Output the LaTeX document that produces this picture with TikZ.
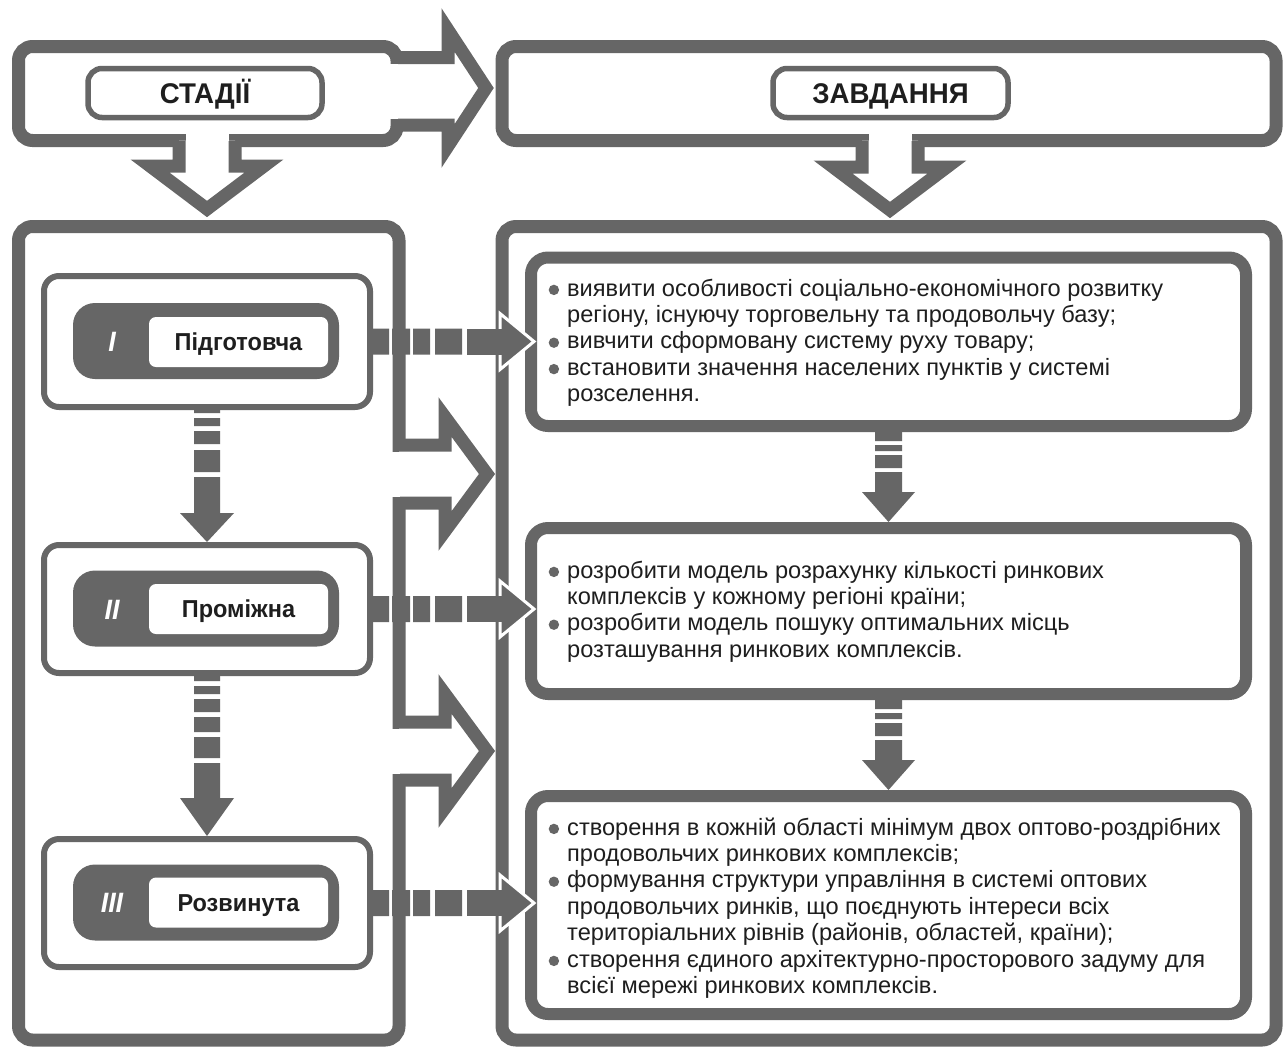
\documentclass[tikz,border=0pt]{standalone}
\usepackage{fontspec}
\setmainfont{Liberation Sans}
\newfontfamily\bodyfont{Liberation Sans}
\newfontfamily\hdrfont[FakeStretch=0.97]{Liberation Sans}
\newfontfamily\stgfont[FakeStretch=0.96]{Liberation Sans}
\definecolor{g}{HTML}{666666}
\definecolor{ink}{HTML}{1E1E1E}
\newcommand\bl{\makebox[19pt][l]{\hspace{0.5pt}\tikz[baseline=0pt]\fill[g] (5.2pt,6.1pt) circle[radius=5.2pt];}}
\newcommand\ind{\hspace*{19pt}}
\newcommand\taskfont{\bodyfont\fontsize{23.6pt}{26.4pt}\selectfont}
\newcommand\outlinearrow[1]{\fill[white] #1 -- cycle; \draw[g,line width=13pt,line join=miter,miter limit=10] #1;}
\newcommand\hdash[1]{%
  \begin{scope}[shift={(#1.east)}]
    \fill[g] (0,-13) rectangle (16,13) (19,-13) rectangle (37,13) (40,-13) rectangle (57,13) (62,-13) rectangle (89,13);
    \filldraw[fill=g,draw=white,line width=3pt,line join=miter] (127,-28) -- (161,0) -- (127,28) -- cycle;
    \fill[g] (94,-13) rectangle (130,13);
  \end{scope}}
\begin{document}
\lineskiplimit=-50pt\relax
\lineskip=0pt\relax
\begin{tikzpicture}[x=1pt,y=-1pt,
  bigframe/.style={draw=g, line width=13pt, fill=white, rounded corners=14pt, inner sep=0pt},
  hpill/.style={draw=g, line width=5.5pt, fill=white, rounded corners=14pt, inner sep=0pt,
     minimum height=49pt, text=ink, font=\hdrfont\bfseries\fontsize{28.5pt}{32pt}\selectfont,
     text height=20.4pt, text depth=0pt},
  stagebox/.style={draw=g, line width=6pt, fill=white, rounded corners=15pt, inner sep=0pt,
     minimum width=326pt},
  darkpill/.style={fill=g, rounded corners=22pt, inner sep=0pt, minimum width=266pt, minimum height=76pt},
  whitebox/.style={fill=white, rounded corners=7pt, inner sep=0pt, minimum width=179pt, minimum height=50pt,
     text=ink, font=\stgfont\bfseries\fontsize{24.5pt}{28pt}\selectfont, text height=17.5pt, text depth=0pt},
  numeral/.style={text=white, inner sep=0pt, anchor=base, font=\stgfont\bfseries\itshape\fontsize{28pt}{32pt}\selectfont},
  taskbox/.style={draw=g, line width=12pt, fill=white, rounded corners=17pt, inner sep=0pt, minimum width=715pt},
  tasktext/.style={anchor=base west, align=left, inner sep=0pt, text=ink, font=\taskfont}
]
\useasboundingbox (0,0) rectangle (1284,1047);

% ---------- left header ----------
\node[bigframe, minimum width=378.5pt, minimum height=94pt] (hl) at (207.75,93.5) {};
\outlinearrow{(397,57.5) -- (448,57.5) -- (448,30) -- (486,88) -- (448,146) -- (448,125) -- (397,125)}
\fill[white] (389,64) rectangle (398,118.5);
\outlinearrow{(179,140.5) -- (179,166) -- (150,166) -- (207,209) -- (264,166) -- (235,166) -- (235,140.5)}
\fill[white] (185.5,133) rectangle (228.5,141);

% ---------- right header ----------
\node[bigframe, minimum width=774pt, minimum height=94pt] (hr) at (889,93.5) {};
\outlinearrow{(862,140.5) -- (862,167) -- (833,167) -- (890,210) -- (947,167) -- (918,167) -- (918,140.5)}
\fill[white] (868.5,133) rectangle (911.5,141);

\node[hpill, minimum width=234pt] (hp1) at (205,93) {СТАДІЇ};
\node[hpill, minimum width=235pt] (hp2) at (890.5,93) {ЗАВДАННЯ};

% ---------- big columns ----------
\node[bigframe, minimum width=380.5pt, minimum height=813.5pt] (colL) at (208.75,633.25) {};
\outlinearrow{(399,445) -- (445,445) -- (445,417) -- (487,474) -- (445,531) -- (445,503) -- (399,503)}
\fill[white] (391,451.5) rectangle (400,496.5);
\outlinearrow{(399,722) -- (445,722) -- (445,694) -- (487,751) -- (445,808) -- (445,780) -- (399,780)}
\fill[white] (391,728.5) rectangle (400,773.5);

\node[bigframe, minimum width=774pt, minimum height=813.5pt] (colR) at (889,633.25) {};

% ---------- stages ----------
\node[stagebox, minimum height=131pt] (s1) at (207,341.5) {};
\node[darkpill] (p1) at (206,341) {};
\node[whitebox] (w1) at (238.5,342) {Підготовча};
\node[numeral] (n1) at (112,351) {I};

\node[stagebox, minimum height=128pt] (s2) at (207,609) {};
\node[darkpill] (p2) at (206,608.5) {};
\node[whitebox] (w2) at (238.5,609) {Проміжна};
\node[numeral] (n2) at (112,619) {II};

\node[stagebox, minimum height=128pt] (s3) at (207,903) {};
\node[darkpill] (p3) at (206,902.5) {};
\node[whitebox] (w3) at (238.5,902.5) {Розвинута};
\node[numeral] (n3) at (112,912.5) {III};

% ---------- tasks ----------
\node[taskbox, minimum height=168.5pt] (t1) at (888.5,341.75) {};
\node[tasktext] (x1) at (548,401.6) {\bl виявити особливості соціально-економічного розвитку\\
\ind регіону, існуючу торговельну та продовольчу базу;\\
\bl вивчити сформовану систему руху товару;\\
\bl встановити значення населених пунктів у системі\\
\ind розселення.};

\node[taskbox, minimum height=166pt] (t2) at (888.5,611) {};
\node[tasktext] (x2) at (548,657.2) {\bl розробити модель розрахунку кількості ринкових\\
\ind комплексів у кожному регіоні країни;\\
\bl розробити модель пошуку оптимальних місць\\
\ind розташування ринкових комплексів.};

\node[taskbox, minimum height=218pt] (t3) at (888.5,905) {};
\node[tasktext] (x3) at (548,993.4) {\bl створення в кожній області мінімум двох оптово-роздрібних\\
\ind продовольчих ринкових комплексів;\\
\bl формування структури управління в системі оптових\\
\ind продовольчих ринків, що поєднують інтереси всіх\\
\ind територіальних рівнів (районів, областей, країни);\\
\bl створення єдиного архітектурно-просторового задуму для\\
\ind всієї мережі ринкових комплексів.};

% ---------- dashed arrows stage -> task ----------
\hdash{s1}
\hdash{s2}
\hdash{s3}

% ---------- dashed arrows stage -> stage ----------
\begin{scope}[shift={(s1.south)}]
  \fill[g] (-13,0) rectangle (13,3) (-13,8) rectangle (13,16) (-13,21) rectangle (13,34) (-13,40) rectangle (13,62);
  \fill[g] (-13,67) -- (-13,103) -- (-27,103) -- (0,132) -- (27,103) -- (13,103) -- (13,67) -- cycle;
\end{scope}
\begin{scope}[shift={(s2.south)}]
  \fill[g] (-13,0) rectangle (13,5) (-13,10) rectangle (13,18) (-13,23) rectangle (13,36) (-13,41) rectangle (13,56) (-13,61) rectangle (13,82);
  \fill[g] (-13,87) -- (-13,122) -- (-27,122) -- (0,160) -- (27,122) -- (13,122) -- (13,87) -- cycle;
\end{scope}

% ---------- dashed arrows task -> task ----------
\begin{scope}[shift={(t1.south)}]
  \fill[g] (-13.5,0) rectangle (13.5,9) (-13.5,13) rectangle (13.5,19) (-13.5,23) rectangle (13.5,36);
  \fill[g] (-13.5,40) -- (-13.5,60) -- (-26.5,60) -- (0,90) -- (26.5,60) -- (13.5,60) -- (13.5,40) -- cycle;
\end{scope}
\begin{scope}[shift={(t2.south)}]
  \fill[g] (-13.5,0) rectangle (13.5,9) (-13.5,13) rectangle (13.5,19) (-13.5,23) rectangle (13.5,36);
  \fill[g] (-13.5,40) -- (-13.5,60) -- (-26.5,60) -- (0,90) -- (26.5,60) -- (13.5,60) -- (13.5,40) -- cycle;
\end{scope}
\end{tikzpicture}
\end{document}
